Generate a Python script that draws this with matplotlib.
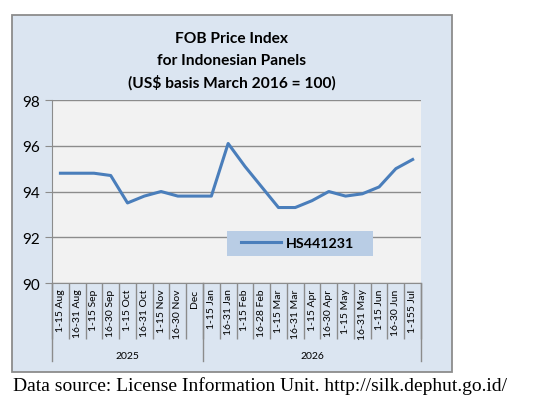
import matplotlib.pyplot as plt
from matplotlib.patches import Rectangle
from matplotlib.transforms import blended_transform_factory

# --------------------------------------------------
# DATA
# --------------------------------------------------
periods = [
    "1-15 Aug", "16-31 Aug", "1-15 Sep", "16-30 Sep", "1-15 Oct", "16-31 Oct",
    "1-15 Nov", "16-30 Nov", "Dec",
    "1-15 Jan", "16-31 Jan", "1-15 Feb", "16-28 Feb", "1-15 Mar", "16-31 Mar",
    "1-15 Apr", "16-30 Apr", "1-15 May", "16-31 May", "1-15 Jun", "16-30 Jun",
    "1-155 Jul",
]
years = ["2025", "2026"]
year_counts = [9, 13]
hs441231 = [94.8, 94.8, 94.8, 94.7, 93.5, 93.8, 94.0, 93.8, 93.8, 93.8, 96.1,
            95.1, 94.2, 93.3, 93.3, 93.6, 94.0, 93.8, 93.9, 94.2, 95.0, 95.4]
y_ticks = [90, 92, 94, 96, 98]
title_lines = ["FOB Price Index", "for Indonesian Panels",
               "(US$ basis March 2016 = 100)"]

# --------------------------------------------------
# FIGURE
# --------------------------------------------------
plt.rcParams["font.family"] = ["Lato", "DejaVu Sans"]
grey = "#8c8c8c"
line_blue = "#4a7ebb"

fig = plt.figure(figsize=(5.38, 4.02), dpi=100)
fig.patch.set_facecolor("white")

# outer chart box
fig.patches.append(Rectangle((0.0223, 0.0721), 0.8178, 0.888,
                             transform=fig.transFigure, facecolor="#dbe5f1",
                             edgecolor=grey, linewidth=1.3, zorder=-5))

ax = fig.add_axes([0.0967, 0.2935, 0.6859, 0.4552])
ax.set_zorder(2)
ax.set_facecolor("#f2f2f2")

x = list(range(len(periods)))
ax.plot(x, hs441231, color=line_blue, linewidth=2.2, label="HS441231",
        solid_joinstyle="round", zorder=3)

ax.set_xlim(-0.5, len(periods) - 0.5)
ax.set_ylim(90, 98)
ax.set_yticks(y_ticks)
ax.set_yticklabels([str(v) for v in y_ticks], fontsize=11)
ax.yaxis.grid(True, color=grey, linewidth=1.0)
ax.set_axisbelow(True)

for side in ["top", "right"]:
    ax.spines[side].set_visible(False)
for side in ["left", "bottom"]:
    ax.spines[side].set_color(grey)
ax.tick_params(axis="y", color=grey, length=5, pad=4)

# category labels and separators
ax.set_xticks(x)
ax.set_xticklabels(periods, rotation=90, fontsize=7.5)
ax.tick_params(axis="x", which="major", length=0, pad=4)
bounds = [i - 0.5 for i in range(len(periods) + 1)]
ax.set_xticks(bounds, minor=True)
ax.tick_params(axis="x", which="minor", length=40, color=grey, width=1.0)

# year groups
trans = blended_transform_factory(ax.transData, ax.transAxes)
start = 0
for yr, n in zip(years, year_counts):
    ax.plot([start - 0.5, start - 0.5], [0, -0.426], transform=trans,
            color=grey, linewidth=1.0, clip_on=False)
    ax.text(start + (n - 1) / 2, -0.395, yr, transform=trans, fontsize=7.5,
            ha="center", va="center")
    start += n
ax.plot([start - 0.5, start - 0.5], [0, -0.426], transform=trans,
        color=grey, linewidth=1.0, clip_on=False)

# legend box
ax.add_patch(Rectangle((0.474, 0.148), 0.396, 0.136, transform=ax.transAxes,
                       facecolor="#b9cde5", edgecolor="none", zorder=2))
leg = ax.legend(loc="center", bbox_to_anchor=(0.665, 0.216), frameon=False,
                handlelength=2.8, handletextpad=0.3,
                prop={"weight": "bold", "size": 10.3})

# titles
for line, fy in zip(title_lines, [0.903, 0.848, 0.794]):
    fig.text(0.431, fy, line, ha="center", va="center", fontsize=11.2,
             fontweight="bold")

fig.text(0.024, 0.040,
         "Data source: License Information Unit. http://silk.dephut.go.id/",
         fontsize=14, family="Liberation Serif", ha="left", va="center")

plt.savefig("out.png", dpi=100)
